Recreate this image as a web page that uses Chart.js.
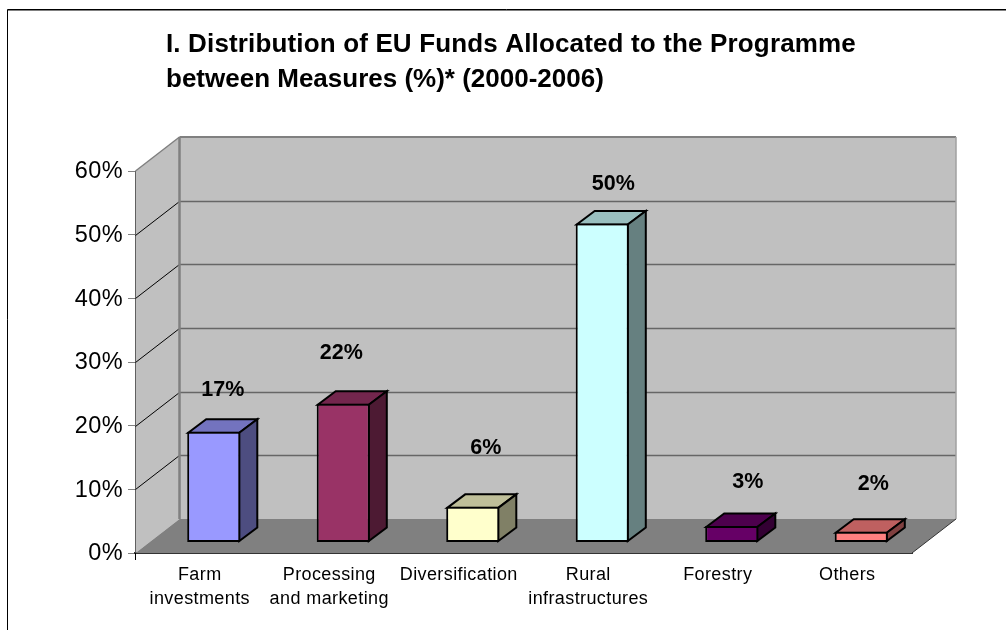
<!DOCTYPE html>
<html lang="en">
<head>
    <meta charset="UTF-8">
    <title>Distribution of EU Funds</title>
    <script src="https://cdn.jsdelivr.net/npm/chart.js"></script>
    <style>
        body { margin: 0; background: white; }
        canvas { display: block; }
    </style>
</head>
<body>
    <canvas id="barChart" width="1006" height="630"></canvas>

    <script>
        const categories = [['Farm', 'investments'], ['Processing', 'and marketing'], 'Diversification', ['Rural', 'infrastructures'], 'Forestry', 'Others'];
        const shares = [17.4, 21.8, 5.6, 50.1, 2.6, 1.7];
        const barColors = ['#9999FF', '#993366', '#FFFFCC', '#CCFFFF', '#660066', '#FF8080'];
        const titleLines = ['I. Distribution of EU Funds Allocated to the Programme', 'between Measures (%)* (2000-2006)'];

        // hand placed data labels in the original: offset from the bar's top centre
        const labelNudge = [[9, -42], [-2, -51], [13, -59], [11, -39], [16, -44], [12, -48]];

        const FONT = '"Liberation Sans", Arial, sans-serif';
        const DEPTH = { x: 44, y: 34 };       // floor depth
        const BAR_SHIFT = { x: 14, y: -10.5 }; // bars stand in the middle of the floor
        const BAR_DEPTH = { x: 18, y: 13.5 };

        function shade(hex, f) {
            const n = parseInt(hex.slice(1), 16);
            return `rgb(${(n >> 16) * f}, ${((n >> 8) & 255) * f}, ${(n & 255) * f})`;
        }

        function poly(ctx, pts, fill, stroke, width) {
            ctx.beginPath();
            pts.forEach((p, i) => i ? ctx.lineTo(p[0], p[1]) : ctx.moveTo(p[0], p[1]));
            ctx.closePath();
            if (fill) { ctx.fillStyle = fill; ctx.fill(); }
            if (stroke) { ctx.strokeStyle = stroke; ctx.lineWidth = width; ctx.stroke(); }
        }

        function line(ctx, x1, y1, x2, y2, color, width) {
            ctx.beginPath();
            ctx.moveTo(x1, y1);
            ctx.lineTo(x2, y2);
            ctx.strokeStyle = color;
            ctx.lineWidth = width;
            ctx.stroke();
        }

        const box3d = {
            id: 'box3d',
            beforeDraw(chart) {
                // the axis labels in the original are slightly spaced out
                chart.ctx.letterSpacing = '0.4px';
            },
            beforeDatasetsDraw(chart) {
                const { ctx, chartArea: a, scales: { y } } = chart;
                const top = y.getPixelForValue(60), base = y.getPixelForValue(0);
                const L = a.left + 0.5, R = a.right;

                ctx.letterSpacing = '0px';
                ctx.save();
                // frame runs off the right and bottom of the picture
                line(ctx, 7.5, 9.5, 1006, 9.5, '#000', 1);
                line(ctx, 8, 10.5, 1006, 10.5, '#808080', 1);
                line(ctx, 7.5, 9.5, 7.5, 630, '#000', 1);

                // walls and floor
                poly(ctx, [[L + DEPTH.x, top - DEPTH.y], [R + DEPTH.x, top - DEPTH.y], [R + DEPTH.x, base - DEPTH.y], [L + DEPTH.x, base - DEPTH.y]], '#C0C0C0');
                poly(ctx, [[L, top], [L + DEPTH.x, top - DEPTH.y], [L + DEPTH.x, base - DEPTH.y], [L, base]], '#C0C0C0');
                poly(ctx, [[L, base], [L + DEPTH.x, base - DEPTH.y], [R + DEPTH.x, base - DEPTH.y], [R, base]], '#808080');

                // gridlines on the walls
                y.ticks.forEach(t => {
                    const py = Math.round(y.getPixelForValue(t.value)) + 0.5;
                    if (t.value > 0 && t.value < 60) {
                        line(ctx, L, py, L + DEPTH.x, py - DEPTH.y, '#000', 1);
                        line(ctx, L + DEPTH.x, py - DEPTH.y, R + DEPTH.x, py - DEPTH.y, '#666', 1.5);
                    }
                });

                // wall edges
                line(ctx, L + DEPTH.x, top - DEPTH.y, L + DEPTH.x, base - DEPTH.y, '#808080', 2.5);
                line(ctx, L, top, L + DEPTH.x, top - DEPTH.y, '#808080', 1.5);
                line(ctx, L + DEPTH.x, top - DEPTH.y, R + DEPTH.x, top - DEPTH.y, '#808080', 2);
                line(ctx, R + DEPTH.x, top - DEPTH.y, R + DEPTH.x, base - DEPTH.y, '#A0A0A0', 1.5);
                line(ctx, R, base, R + DEPTH.x, base - DEPTH.y, '#333', 1);
                ctx.restore();
            },
            beforeDatasetDraw(chart, args) {
                const { ctx } = chart;
                ctx.save();
                ctx.translate(BAR_SHIFT.x, BAR_SHIFT.y);
                ctx.lineJoin = 'miter';
                chart.getDatasetMeta(args.index).data.forEach((bar, i) => {
                    const x1 = bar.x - bar.width / 2 + 1, x2 = bar.x + bar.width / 2 - 1;
                    const yt = bar.y + 1, yb = bar.base - 1;
                    const dx = BAR_DEPTH.x, dy = BAR_DEPTH.y;
                    poly(ctx, [[x1, yt], [x1 + dx, yt - dy], [x2 + dx, yt - dy], [x2, yt]], shade(barColors[i], 0.75), '#000', 2);
                    poly(ctx, [[x2, yt], [x2 + dx, yt - dy], [x2 + dx, yb - dy], [x2, yb]], shade(barColors[i], 0.5), '#000', 2);
                });
            },
            afterDatasetDraw(chart) {
                chart.ctx.restore();
            },
            afterDraw(chart) {
                const { ctx } = chart;
                ctx.save();
                ctx.fillStyle = '#000';

                ctx.font = `bold 26px ${FONT}`;
                ctx.textAlign = 'left';
                ctx.textBaseline = 'alphabetic';
                ctx.letterSpacing = '0.15px';
                ctx.fillText(titleLines[0], 166, 52);
                ctx.letterSpacing = '0px';
                ctx.fillText(titleLines[1], 166, 87);

                ctx.font = `bold 21.5px ${FONT}`;
                ctx.textAlign = 'center';
                ctx.textBaseline = 'middle';
                chart.getDatasetMeta(0).data.forEach((bar, i) => {
                    ctx.fillText(Math.round(shares[i]) + '%',
                        bar.x + BAR_SHIFT.x + labelNudge[i][0],
                        bar.y + BAR_SHIFT.y + labelNudge[i][1]);
                });
                ctx.restore();
            }
        };

        new Chart(document.getElementById('barChart'), {
            type: 'bar',
            data: {
                labels: categories,
                datasets: [{
                    data: shares,
                    backgroundColor: barColors,
                    borderColor: '#000',
                    borderWidth: 2,
                    borderSkipped: false,
                    barPercentage: 0.41,
                    categoryPercentage: 1,
                    clip: false
                }]
            },
            options: {
                responsive: false,
                animation: false,
                layout: { padding: { top: 171, right: 94, left: 0, bottom: 0 } },
                plugins: {
                    legend: { display: false },
                    title: { display: false },
                    tooltip: { enabled: false }
                },
                scales: {
                    x: {
                        afterFit(s) { s.height = 77; },
                        grid: {
                            drawOnChartArea: false,
                            tickLength: 7,
                            tickColor: c => c.index === 0 ? '#000' : 'transparent'
                        },
                        border: { color: '#333', width: 2 },
                        ticks: {
                            autoSkip: false,
                            maxRotation: 0,
                            padding: 3,
                            color: '#000',
                            font: { family: FONT, size: 18, lineHeight: 1.34 }
                        }
                    },
                    y: {
                        min: 0,
                        max: 60,
                        afterFit(s) { s.width = 135; },
                        grid: {
                            drawOnChartArea: false,
                            tickLength: 7,
                            tickColor: '#808080'
                        },
                        border: { color: '#000', width: 1 },
                        ticks: {
                            stepSize: 10,
                            padding: 5,
                            labelOffset: 1,
                            color: '#000',
                            font: { family: FONT, size: 23.5 },
                            callback: v => v + '%'
                        }
                    }
                }
            },
            plugins: [box3d]
        });
    </script>
</body>
</html>
